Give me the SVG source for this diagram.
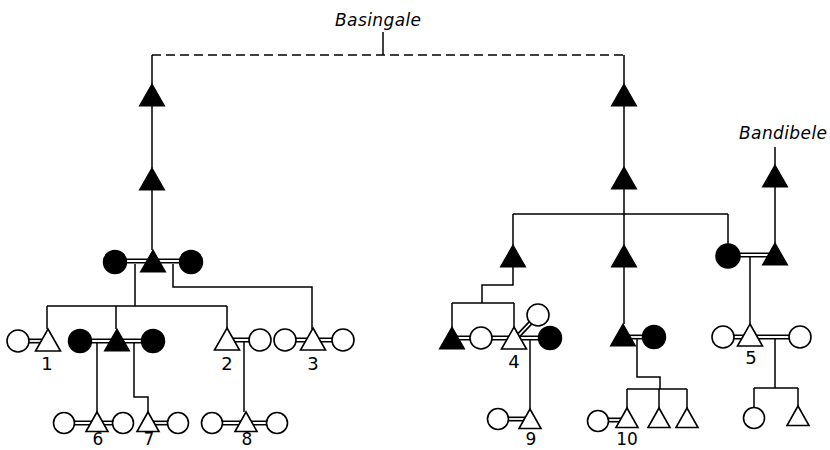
<svg xmlns="http://www.w3.org/2000/svg" xmlns:xlink="http://www.w3.org/1999/xlink" width="830" height="450" viewBox="0 0 830 450">
  <style>
    .ln { fill: none; stroke: #000; stroke-width: 1.5; }
    .dash { fill: none; stroke: #000; stroke-width: 1.5; stroke-dasharray: 9 5; }
    .cf { fill: #000; stroke: #000; stroke-width: 1.5; }
    .co { fill: #fff; stroke: #000; stroke-width: 1.6; }
    .name { font-family: "DejaVu Sans", "Liberation Sans", sans-serif; font-style: italic; font-size: 17px; letter-spacing: 0.4px; fill: #000; }
    .num { font-family: "DejaVu Sans", "Liberation Sans", sans-serif; font-size: 18px; fill: #000; text-anchor: middle; }
    .num.low { font-size: 17px; }
  </style>
  <defs>
    <!-- triangles are anchored at their apex -->
    <path id="tf" d="M0,0 L12.5,22 L-12.5,22 Z" fill="#000" stroke="#000" stroke-width="1.2"/>
    <path id="to" d="M0,0 L12.5,22 L-12.5,22 Z" fill="#fff" stroke="#000" stroke-width="1.6"/>
    <path id="ts" d="M0,0 L11,19.5 L-11,19.5 Z" fill="#fff" stroke="#000" stroke-width="1.6"/>
  </defs>
  <rect width="830" height="450" fill="#fff"/>

  <!-- lineage and descent connectors -->
  <g id="connectors">
    <path class="dash" d="M152,55 H624"/>
    <path class="ln" d="M383,32 V55"/>
    <!-- left lineage -->
    <path class="ln" d="M152,55 V84 M152,106 V168 M152,190 V250"/>
    <path class="ln" d="M135,264 V306 M47,306 H227 M47,306 V329 M116,306 V329 M227,306 V329"/>
    <path class="ln" d="M173,264 V287 H312 V329"/>
    <path class="ln" d="M97,343 V412"/>
    <path class="ln" d="M134,343 V397 H148 V412"/>
    <path class="ln" d="M244,342 V412"/>
    <!-- right lineage -->
    <path class="ln" d="M624,55 V84 M624,106 V167 M624,189 V245 M624,267 V324"/>
    <path class="ln" d="M513,214 H728 M513,214 V245 M728,214 V244"/>
    <path class="ln" d="M513,266 V285 H482 V303 M452,303 H514 M452,303 V327 M514,303 V327"/>
    <path class="ln" d="M775,147 V165 M775,185 V243"/>
    <path class="ln" d="M750,256 V324"/>
    <path class="ln" d="M530,340 V409"/>
    <path class="ln" d="M637,339 V377 H660 V389 M627,389 H687 M627,389 V408 M659,389 V408 M687,389 V408"/>
    <path class="ln" d="M775,339 V388 M754,388 H798 M754,388 V407 M798,388 V406"/>
  </g>

  <!-- marriage ties: drawn as double lines -->
  <g id="marriages-outer" fill="none" stroke="#000" stroke-width="5">
    <g id="mar">
      <path d="M115,261 H191"/>
      <path d="M18,341 H48"/>
      <path d="M80,341 H153"/>
      <path d="M227,340 H260"/>
      <path d="M285,340 H343"/>
      <path d="M64,423 H123"/>
      <path d="M148,423 H178"/>
      <path d="M212,423 H277"/>
      <path d="M452,338 H550"/>
      <path d="M518,336 L538,315"/>
      <path d="M623,337 H654"/>
      <path d="M723,337 H800"/>
      <path d="M728,255 H775"/>
      <path d="M498,419 H530"/>
      <path d="M598,420 H627"/>
    </g>
  </g>
  <use xlink:href="#mar" href="#mar" fill="none" stroke="#fff" stroke-width="1.8"/>

  <!-- left lineage -->
  <g id="n-l1"><use href="#tf" x="152" y="84"/></g>
  <g id="n-l2"><use href="#tf" x="152" y="168"/></g>
  <g id="n-l3">
    <circle class="cf" cx="115" cy="262" r="11.5"/>
    <use href="#tf" x="153" y="250"/>
    <circle class="cf" cx="191" cy="262" r="11.5"/>
  </g>
  <g id="n-1">
    <circle class="co" cx="18" cy="341" r="11"/>
    <use href="#to" x="48" y="329"/>
    <text class="num" x="47" y="370">1</text>
  </g>
  <g id="n-l4">
    <circle class="cf" cx="80" cy="341" r="11.5"/>
    <use href="#tf" x="117" y="329"/>
    <circle class="cf" cx="153" cy="341" r="11.5"/>
  </g>
  <g id="n-2">
    <use href="#to" x="227" y="328"/>
    <circle class="co" cx="260" cy="340" r="11"/>
    <text class="num" x="227" y="370">2</text>
  </g>
  <g id="n-3">
    <circle class="co" cx="285" cy="340" r="11"/>
    <use href="#to" x="313" y="328"/>
    <circle class="co" cx="343" cy="340" r="11"/>
    <text class="num" x="313" y="370">3</text>
  </g>
  <g id="n-6">
    <circle class="co" cx="64" cy="423" r="10.5"/>
    <use href="#ts" x="97" y="412"/>
    <circle class="co" cx="123" cy="423" r="10.5"/>
    <text class="num low" x="98" y="445">6</text>
  </g>
  <g id="n-7">
    <use href="#ts" x="148" y="412"/>
    <circle class="co" cx="178" cy="423" r="10.5"/>
    <text class="num low" x="149" y="445">7</text>
  </g>
  <g id="n-8">
    <circle class="co" cx="212" cy="423" r="10.5"/>
    <use href="#ts" x="246" y="412"/>
    <circle class="co" cx="277" cy="423" r="10.5"/>
    <text class="num low" x="247" y="445">8</text>
  </g>

  <!-- right lineage -->
  <g id="n-r1"><use href="#tf" x="624" y="84"/></g>
  <g id="n-r2"><use href="#tf" x="624" y="167"/></g>
  <g id="n-r3a"><use href="#tf" x="513" y="245"/></g>
  <g id="n-r3b"><use href="#tf" x="624" y="245"/></g>
  <g id="n-b1"><use href="#tf" x="775" y="165"/></g>
  <g id="n-b2">
    <circle class="cf" cx="728" cy="256" r="12"/>
    <use href="#tf" x="775" y="243"/>
  </g>
  <g id="n-4">
    <use href="#tf" x="452" y="327"/>
    <circle class="co" cx="481" cy="338" r="11"/>
    <circle class="co" cx="538" cy="315" r="11"/>
    <use href="#to" x="514" y="327"/>
    <circle class="cf" cx="550" cy="338" r="11.5"/>
    <text class="num" x="514" y="368">4</text>
  </g>
  <g id="n-r4">
    <use href="#tf" x="623" y="324"/>
    <circle class="cf" cx="654" cy="337" r="11.5"/>
  </g>
  <g id="n-5">
    <circle class="co" cx="723" cy="337" r="11"/>
    <use href="#to" x="750" y="324"/>
    <circle class="co" cx="800" cy="337" r="11"/>
    <text class="num" x="751" y="364">5</text>
  </g>
  <g id="n-9">
    <circle class="co" cx="498" cy="419" r="10.5"/>
    <use href="#ts" x="530" y="409"/>
    <text class="num low" x="531" y="445">9</text>
  </g>
  <g id="n-10">
    <circle class="co" cx="598" cy="421" r="10.5"/>
    <use href="#ts" x="627" y="408"/>
    <use href="#ts" x="659" y="408"/>
    <use href="#ts" x="687" y="408"/>
    <text class="num low" x="627" y="445">10</text>
  </g>
  <g id="n-5c">
    <circle class="co" cx="754" cy="418" r="10.5"/>
    <use href="#ts" x="798" y="406"/>
  </g>

  <!-- group names -->
  <text class="name" x="335" y="26">Basingale</text>
  <text class="name" x="739" y="139">Bandibele</text>
</svg>
